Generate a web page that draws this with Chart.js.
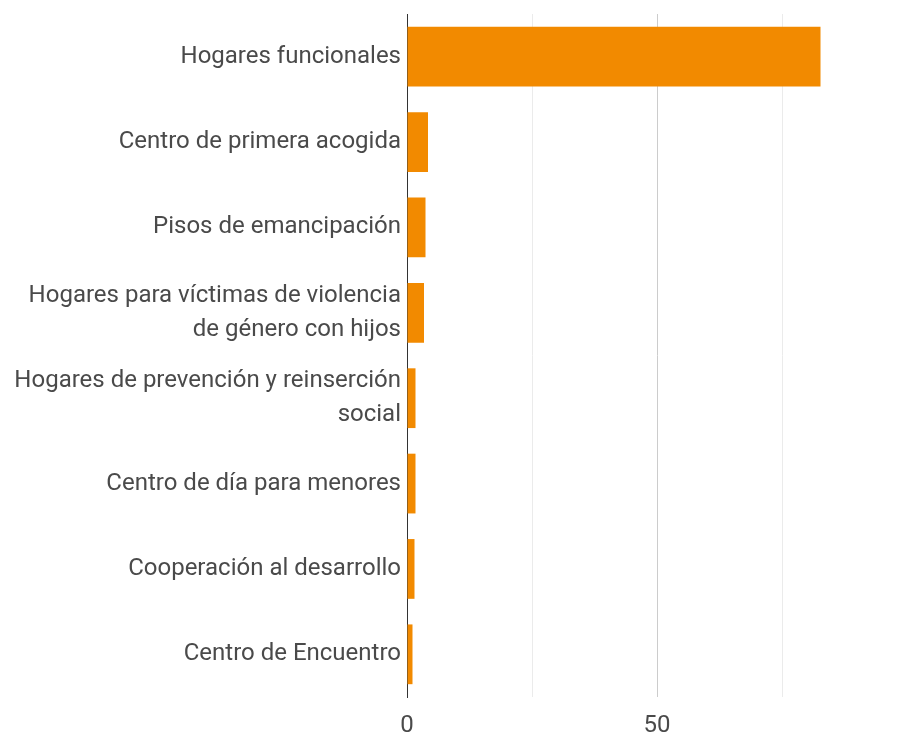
<!DOCTYPE html>
<html>
<head>
<meta charset="utf-8">
<script src="https://cdn.jsdelivr.net/npm/chart.js@4"></script>
<style>
    html, body { margin: 0; padding: 0; background: #fff; }
    #wrap { width: 899px; height: 733px; }
</style>
</head>
<body>
<div id="wrap"><canvas id="barChart" width="899" height="733"></canvas></div>
<script>
// categories (multi-line labels as arrays)
const categories = [
    'Hogares funcionales',
    'Centro de primera acogida',
    'Pisos de emancipación',
    ['Hogares para víctimas de violencia', 'de género con hijos'],
    ['Hogares de prevención y reinserción', 'social'],
    'Centro de día para menores',
    'Cooperación al desarrollo',
    'Centro de Encuentro'
];
const values = [82.7, 4.2, 3.7, 3.4, 1.7, 1.7, 1.5, 1.1];
const gridTicks = [0, 25, 50, 75];
const shownTicks = [0, 50];

document.addEventListener('DOMContentLoaded', function() {
    const ctx = document.getElementById('barChart');

    new Chart(ctx, {
        type: 'bar',
        data: {
            labels: categories,
            datasets: [{
                data: values,
                backgroundColor: '#F28A00',
                borderWidth: 0,
                barPercentage: 0.70,
                categoryPercentage: 1.0
            }]
        },
        options: {
            indexAxis: 'y',
            responsive: false,
            animation: false,
            layout: { padding: { top: 14, right: 0, bottom: 0, left: 0 } },
            plugins: {
                legend: { display: false },
                tooltip: { enabled: false }
            },
            scales: {
                x: {
                    min: 0,
                    max: 98.4,
                    afterBuildTicks: function(scale) {
                        scale.ticks = gridTicks.map(v => ({ value: v }));
                    },
                    afterFit: function(scale) {
                        scale.height = 36;
                    },
                    border: { display: false },
                    grid: {
                        drawTicks: false,
                        lineWidth: 1,
                        color: function(c) {
                            const v = c.tick ? c.tick.value : null;
                            if (v === 0) return 'rgba(0,0,0,0)';
                            if (v === 50) return '#cccccc';
                            return '#ebebeb';
                        }
                    },
                    ticks: {
                        padding: 15,
                        color: '#4a4a4a',
                        font: { family: 'Roboto', size: 24 },
                        maxRotation: 0,
                        callback: function(value) {
                            return shownTicks.includes(value) ? String(value) : '';
                        }
                    }
                },
                y: {
                    afterFit: function(scale) {
                        scale.width = 407;
                        scale.paddingTop = 0;
                        scale.paddingBottom = 0;
                    },
                    border: { display: true, color: '#333333', width: 1 },
                    grid: { display: false, drawTicks: false },
                    ticks: {
                        padding: 6,
                        color: '#4a4a4a',
                        font: { family: 'Roboto', size: 24, lineHeight: 1.4 }
                    }
                }
            }
        }
    });
});
</script>
</body>
</html>
